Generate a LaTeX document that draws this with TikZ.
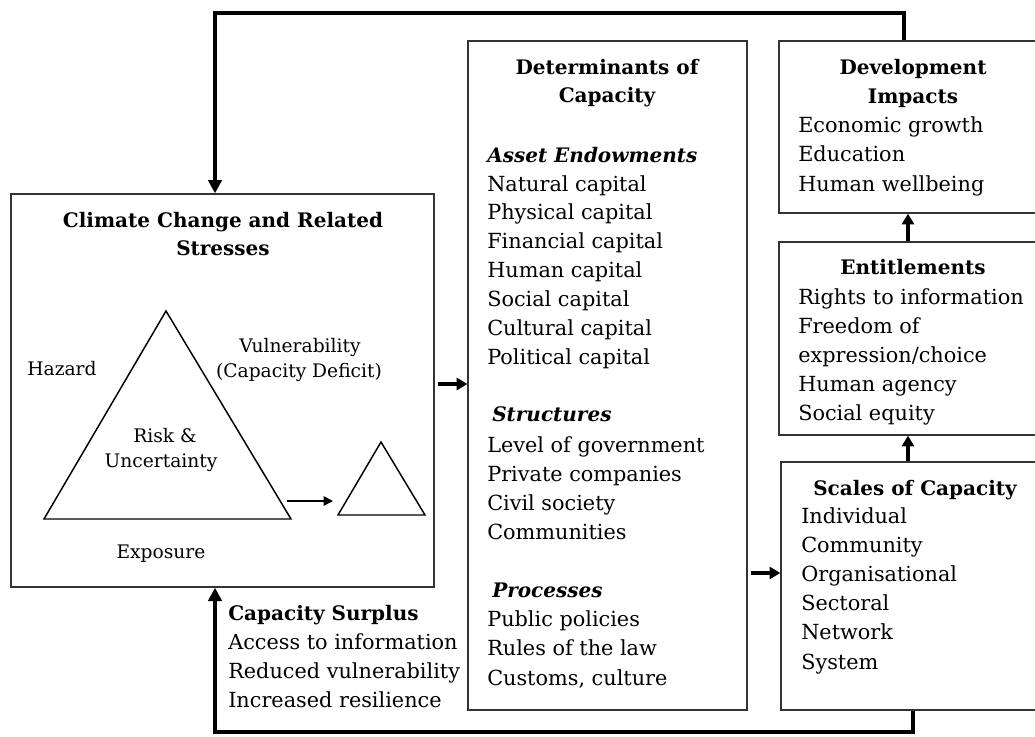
\documentclass[tikz,border=0pt]{standalone}
\usepackage{fontspec}
\setmainfont{DejaVu Serif}
\usetikzlibrary{arrows.meta,fit}
\begin{document}
\begin{tikzpicture}[x=0.75pt,y=-0.75pt,
 box/.style={draw=black!80, line width=1pt, inner sep=0pt},
 item/.style={font=\fontsize{15.6}{18}\selectfont, inner sep=0pt, anchor=base west},
 ttl/.style={font=\bfseries\fontsize{15}{18}\selectfont, inner sep=0pt, anchor=base},
 ttlw/.style={font=\bfseries\fontsize{15}{18}\selectfont, inner sep=0pt, anchor=base west},
 sub/.style={font=\bfseries\itshape\fontsize{15}{18}\selectfont, inner sep=0pt, anchor=base west},
 lbl/.style={font=\fontsize{14}{16}\selectfont, inner sep=0pt, anchor=base},
 big/.style={line width=3pt, -{Triangle[length=8pt,width=9pt]}},
 fb/.style={line width=3.5pt, -{Triangle[length=10pt,width=10pt]}},
 tri/.style={draw, line width=1.1pt, line join=miter},
 thin/.style={line width=1.1pt, -{Triangle[length=7pt,width=7pt]}}
]
\useasboundingbox (0,0) rectangle (1035,736);
\clip (0,0) rectangle (1035,736);
\fill[white] (0,0) rectangle (1035,736);

% boxes
\node[box, fit={(11,194) (434,587)}] (clim) {};
\node[box, fit={(468,41) (747,710)}] (det) {};
\node[box, fit={(779,41) (1050,213)}] (dev) {};
\node[box, fit={(779,242) (1050,435)}] (ent) {};
\node[box, fit={(781,462) (1050,710)}] (scl) {};

% climate box
\node[ttl] (ct1) at (223,227) {Climate Change and Related};
\node[ttl] (ct2) at (223,255) {Stresses};
\coordinate (ta) at (166,311);
\coordinate (tb) at (44,519);
\coordinate (tc) at (291,519);
\draw[tri] (ta) -- (tb) -- (tc) -- cycle;
\coordinate (sa) at (381,442);
\coordinate (sb) at (338,515);
\coordinate (sc) at (425,515);
\draw[tri] (sa) -- (sb) -- (sc) -- cycle;
\coordinate (ar1) at (287,501);
\coordinate (ar2) at (333,501);
\draw[thin] (ar1) -- (ar2);
\node[lbl] (haz) at (62,375) {Hazard};
\node[lbl] (vul1) at (300,352) {Vulnerability};
\node[lbl] (vul2) at (299,377) {(Capacity Deficit)};
\node[lbl] (risk1) at (165,442) {Risk \&};
\node[lbl] (risk2) at (161,467) {Uncertainty};
\node[lbl] (exp) at (161,558) {Exposure};

% determinants
\node[ttl] (dt1) at (607,74) {Determinants of};
\node[ttl] (dt2) at (607,102) {Capacity};
\node[sub] (ae) at (487,162) {Asset Endowments};
\foreach \t [count=\i] in {Natural capital, Physical capital, Financial capital, Human capital, Social capital, Cultural capital, Political capital}
  \node[item] (ae\i) at (487,{191+(\i-1)*28.9}) {\t};
\node[sub] (st) at (492,421) {Structures};
\foreach \t [count=\i] in {Level of government, Private companies, Civil society, Communities}
  \node[item] (st\i) at (487,{452+(\i-1)*29}) {\t};
\node[sub] (pr) at (492,597) {Processes};
\foreach \t [count=\i] in {Public policies, Rules of the law, {Customs, culture}}
  \node[item] (pr\i) at (487,{626+(\i-1)*29.5}) {\t};

% development impacts
\node[ttl] (dv1) at (913,74) {Development};
\node[ttl] (dv2) at (913,103) {Impacts};
\foreach \t [count=\i] in {Economic growth, Education, Human wellbeing}
  \node[item] (dv\i x) at (798,{132+(\i-1)*29.5}) {\t};

% entitlements
\node[ttl] (et) at (913,274) {Entitlements};
\foreach \t [count=\i] in {Rights to information, Freedom of, expression/choice, Human agency, Social equity}
  \node[item] (et\i) at (798,{304+(\i-1)*29}) {\t};

% scales
\node[ttlw] (sct) at (813,495) {Scales of Capacity};
\foreach \t [count=\i] in {Individual, Community, Organisational, Sectoral, Network, System}
  \node[item] (sc\i) at (801,{523+(\i-1)*29.2}) {\t};

% capacity surplus
\node[ttlw] (cs) at (228,620) {Capacity Surplus};
\foreach \t [count=\i] in {Access to information, Reduced vulnerability, Increased resilience}
  \node[item] (cs\i) at (228,{649+(\i-1)*29}) {\t};

% connectors
\draw[big] (clim.east |- 0,384) ++(3,0) -- (det.west |- 0,384);
\draw[big] (det.east |- 0,573) ++(3,0) -- (scl.west |- 0,573);
\draw[big] (scl.north -| 908,0) -- (ent.south -| 908,0);
\draw[big] (ent.north -| 908,0) -- (dev.south -| 908,0);
\draw[fb] (dev.north -| 904,0) |- (215,13) -- (clim.north -| 215,0);
\draw[fb] (scl.south -| 913,0) |- (215,732) -- (clim.south -| 215,0);
\end{tikzpicture}
\end{document}
